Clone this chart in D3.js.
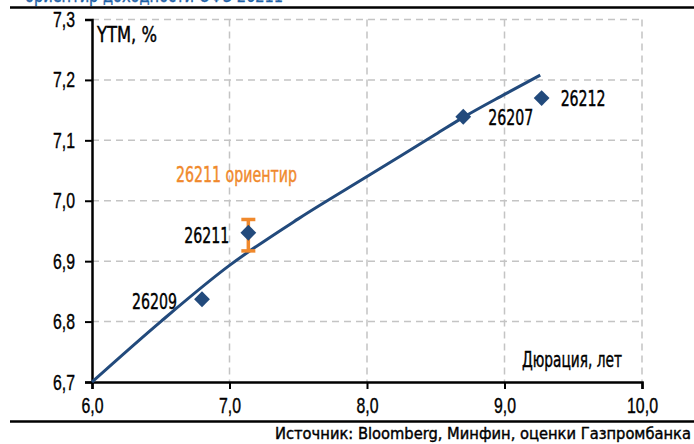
<!DOCTYPE html>
<html>
<head>
<meta charset="utf-8">
<script src="https://cdn.jsdelivr.net/npm/d3@7"></script>
<style>
  body { margin: 0; background: #fff; }
  svg { display: block; font-family: "Liberation Sans Narrow", "DejaVu Sans Condensed", sans-serif; }
</style>
</head>
<body>
<svg id="chart"></svg>
<script>
// fitted curve
const curveX = [6.0, 6.5, 7.0, 7.5, 8.0, 8.5, 8.7, 9.0, 9.26];
const curveY = [6.700, 6.800, 6.893, 6.970, 7.040, 7.110, 7.138, 7.176, 7.208];

// bonds
const bondNames = ["26209", "26211", "26207", "26212"];
const bondDur = [6.80, 7.137, 8.70, 9.27];
const bondYtm = [6.837, 6.947, 7.139, 7.17];

// guidance range for 26211
const guideLow = 6.917;
const guideHigh = 6.969;

const xTicks = [6, 7, 8, 9, 10];
const yTicks = [6.7, 6.8, 6.9, 7.0, 7.1, 7.2, 7.3];

const width = 694, height = 444;
const blue = "#224a7c";
const orange = "#f0892c";

const svg = d3.select("#chart").attr("width", width).attr("height", height);

const x = d3.scaleLinear().domain([6, 10]).range([92, 642]);
const y = d3.scaleLinear().domain([6.7, 7.3]).range([382, 19.5]);

const fmt = d => d3.format(".1f")(d).replace(".", ",");

// squeeze a text to a given width, the original font is a narrow and heavy one
const squeeze = (sel, w) => sel
  .attr("textLength", w)
  .attr("lengthAdjust", "spacingAndGlyphs")
  .attr("stroke", function() { return d3.select(this).attr("fill") || "#000"; })
  .attr("stroke-width", 0.4);

// title of the chart, cut off by the top edge as in the picture
svg.append("text")
  .attr("x", 25)
  .attr("y", 2)
  .attr("fill", "#1f63a8")
  .style("font-size", "20px")
  .text("ориентир доходности ОФЗ 26211")
  .call(squeeze, 258);

// frame rules
svg.append("line")
  .attr("x1", 10).attr("x2", width)
  .attr("y1", 7.5).attr("y2", 7.5)
  .attr("stroke", "#000").attr("stroke-width", 2.5);
svg.append("line")
  .attr("x1", 10).attr("x2", width)
  .attr("y1", 421.5).attr("y2", 421.5)
  .attr("stroke", "#000").attr("stroke-width", 2.5);

// grid
svg.append("g").selectAll("line")
  .data(yTicks.slice(1))
  .join("line")
  .attr("x1", x(6)).attr("x2", x(10))
  .attr("y1", d => y(d)).attr("y2", d => y(d))
  .attr("stroke", "#c4c4c4").attr("stroke-width", 1.5)
  .attr("stroke-dasharray", "7,5");
svg.append("g").selectAll("line")
  .data(xTicks.slice(1))
  .join("line")
  .attr("x1", d => x(d)).attr("x2", d => x(d))
  .attr("y1", y(7.3)).attr("y2", y(6.7))
  .attr("stroke", "#c4c4c4").attr("stroke-width", 1.5)
  .attr("stroke-dasharray", "7,5");

// axes
const xAxis = svg.append("g")
  .attr("transform", "translate(0," + y(6.7) + ")")
  .call(d3.axisBottom(x).tickValues(xTicks).tickFormat(fmt).tickSize(7).tickPadding(8));
const yAxis = svg.append("g")
  .attr("transform", "translate(" + x(6) + ",0)")
  .call(d3.axisLeft(y).tickValues(yTicks).tickFormat(fmt).tickSize(7).tickPadding(10));
[xAxis, yAxis].forEach(a => {
  a.select(".domain").attr("stroke-width", 2.5);
  a.selectAll(".tick line").attr("stroke-width", 2);
  a.selectAll(".tick text")
    .style("font-family", "inherit")
    .style("font-size", "22px")
    .attr("fill", "#000")
    .attr("stroke", "#000")
    .attr("stroke-width", 0.4)
    .attr("textLength", d => d >= 10 ? 31 : 22)
    .attr("lengthAdjust", "spacingAndGlyphs");
});

// fitted curve
const pts = curveX.map((d, i) => [d, curveY[i]]);
svg.append("path")
  .datum(pts)
  .attr("fill", "none")
  .attr("stroke", blue)
  .attr("stroke-width", 3)
  .attr("d", d3.line().x(d => x(d[0])).y(d => y(d[1])).curve(d3.curveMonotoneX));

// guidance error bar
const gx = x(bondDur[1]);
const eb = svg.append("g").attr("stroke", orange).attr("stroke-width", 3.5);
eb.append("line").attr("x1", gx).attr("x2", gx).attr("y1", y(guideHigh)).attr("y2", y(guideLow));
eb.append("line").attr("x1", gx - 7).attr("x2", gx + 7).attr("y1", y(guideHigh)).attr("y2", y(guideHigh));
eb.append("line").attr("x1", gx - 7).attr("x2", gx + 7).attr("y1", y(guideLow)).attr("y2", y(guideLow));

// bond markers
svg.append("g").selectAll("path")
  .data(bondNames)
  .join("path")
  .attr("transform", (d, i) => "translate(" + x(bondDur[i]) + "," + y(bondYtm[i]) + ") rotate(45)")
  .attr("d", d3.symbol(d3.symbolSquare, 125))
  .attr("fill", blue);

// bond labels
const labelPos = {
  "26209": { dx: -70, dy: 10 },
  "26211": { dx: -64, dy: 10 },
  "26207": { dx: 25, dy: 8 },
  "26212": { dx: 19, dy: 8 }
};
svg.append("g").selectAll("text")
  .data(bondNames)
  .join("text")
  .attr("x", (d, i) => x(bondDur[i]) + labelPos[d].dx)
  .attr("y", (d, i) => y(bondYtm[i]) + labelPos[d].dy)
  .attr("fill", "#000")
  .style("font-size", "21px")
  .text(d => d)
  .call(squeeze, 45);

svg.append("text")
  .attr("x", 176).attr("y", 182)
  .attr("fill", orange)
  .style("font-size", "21px")
  .text("26211 ориентир")
  .call(squeeze, 121);

// axis titles
svg.append("text")
  .attr("x", 97).attr("y", 42)
  .attr("fill", "#000")
  .style("font-size", "21px")
  .text("YTM, %")
  .call(squeeze, 60);
svg.append("text")
  .attr("x", 522).attr("y", 367)
  .attr("fill", "#000")
  .style("font-size", "21px")
  .text("Дюрация,  лет")
  .call(squeeze, 100);

// source
svg.append("text")
  .attr("x", 691).attr("y", 439)
  .attr("text-anchor", "end")
  .attr("fill", "#000")
  .style("font-size", "16.5px")
  .text("Источник: Bloomberg, Минфин, оценки Газпромбанка")
  .call(squeeze, 416);
</script>
</body>
</html>
